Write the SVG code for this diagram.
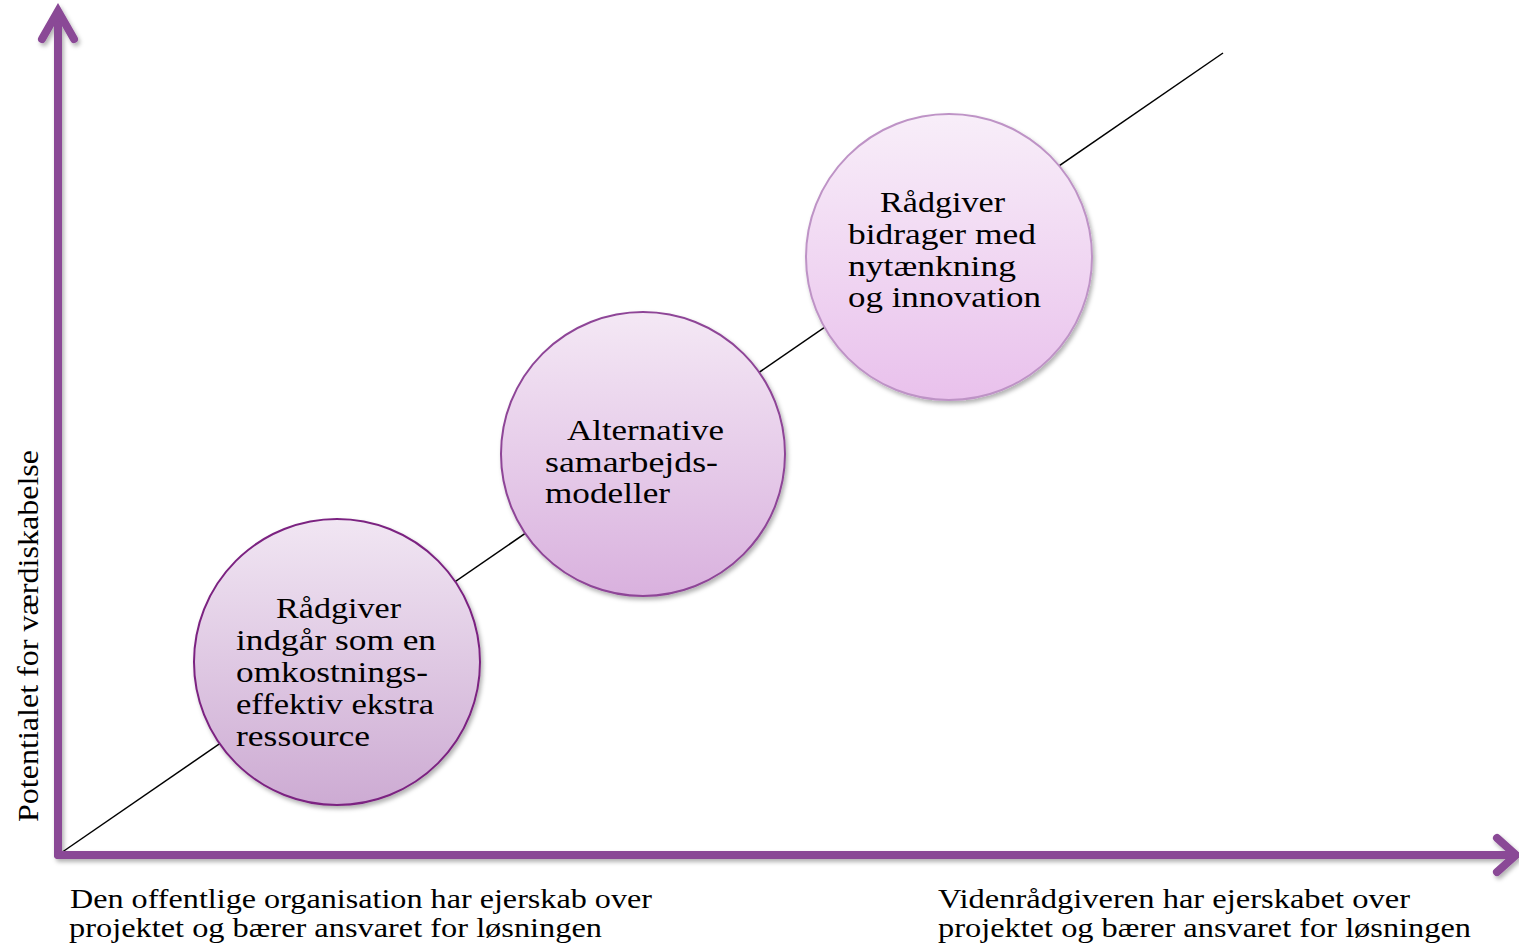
<svg xmlns="http://www.w3.org/2000/svg" width="1519" height="945" viewBox="0 0 1519 945">
<style>
  .t { font-family: "Liberation Serif", "Times New Roman", serif; font-size: 30px; fill: #000; }
  .b { font-size: 28px; }
  .axis { stroke: #8A4896; stroke-width: 8; fill: none; stroke-linecap: round; stroke-linejoin: miter; }
  .diag { stroke: #000; stroke-width: 1.5; fill: none; }
</style>
<defs>
  <filter id="sh" x="-10%" y="-10%" width="120%" height="120%">
    <feDropShadow dx="2" dy="3" stdDeviation="2" flood-color="#000" flood-opacity="0.3"/>
  </filter>
  <linearGradient id="g1" x1="0" y1="0" x2="0" y2="1">
    <stop offset="0" stop-color="#F1E6F3"/>
    <stop offset="1" stop-color="#CDABD3"/>
  </linearGradient>
  <linearGradient id="g2" x1="0" y1="0" x2="0" y2="1">
    <stop offset="0" stop-color="#F4E8F5"/>
    <stop offset="1" stop-color="#D9B1DE"/>
  </linearGradient>
  <linearGradient id="g3" x1="0" y1="0" x2="0" y2="1">
    <stop offset="0" stop-color="#F8EEF9"/>
    <stop offset="1" stop-color="#E9C1EC"/>
  </linearGradient>
</defs>
<rect width="1519" height="945" fill="#fff"/>

<g id="connectors">
  <line class="diag" x1="58" y1="855" x2="1223" y2="53"/>
  <g id="axes" filter="url(#sh)">
    <line class="axis" x1="58" y1="855" x2="58" y2="14"/>
    <path class="axis" d="M42,39 L58,11 L74,39"/>
    <line class="axis" x1="58" y1="855" x2="1513" y2="855"/>
    <path class="axis" d="M1497,838 L1516,855 L1497,872"/>
  </g>
</g>

<g id="node1">
  <circle cx="337" cy="662" r="143" fill="url(#g1)" stroke="#7B2381" stroke-width="2" filter="url(#sh)"/>
  <text class="t" x="276" y="618" textLength="125" lengthAdjust="spacingAndGlyphs">Rådgiver</text>
  <text class="t" x="236" y="650" textLength="200" lengthAdjust="spacingAndGlyphs">indgår som en</text>
  <text class="t" x="236" y="682" textLength="192" lengthAdjust="spacingAndGlyphs">omkostnings-</text>
  <text class="t" x="236" y="714" textLength="198" lengthAdjust="spacingAndGlyphs">effektiv ekstra</text>
  <text class="t" x="236" y="746" textLength="134" lengthAdjust="spacingAndGlyphs">ressource</text>
</g>

<g id="node2">
  <circle cx="643" cy="454" r="142" fill="url(#g2)" stroke="#8E4597" stroke-width="2" filter="url(#sh)"/>
  <text class="t" x="567" y="440" textLength="157" lengthAdjust="spacingAndGlyphs">Alternative</text>
  <text class="t" x="545" y="472" textLength="173" lengthAdjust="spacingAndGlyphs">samarbejds-</text>
  <text class="t" x="545" y="503" textLength="125" lengthAdjust="spacingAndGlyphs">modeller</text>
</g>

<g id="node3">
  <circle cx="949" cy="257" r="143" fill="url(#g3)" stroke="#BE93C6" stroke-width="2" filter="url(#sh)"/>
  <text class="t" x="880" y="212" textLength="125" lengthAdjust="spacingAndGlyphs">Rådgiver</text>
  <text class="t" x="848" y="244" textLength="188" lengthAdjust="spacingAndGlyphs">bidrager med</text>
  <text class="t" x="848" y="276" textLength="168" lengthAdjust="spacingAndGlyphs">nytænkning</text>
  <text class="t" x="848" y="307" textLength="193" lengthAdjust="spacingAndGlyphs">og innovation</text>
</g>

<g id="label-y">
  <text class="t" transform="translate(38,822) rotate(-90)" textLength="372" lengthAdjust="spacingAndGlyphs">Potentialet for værdiskabelse</text>
</g>
<g id="label-left">
  <text class="t b" x="70" y="908" textLength="582" lengthAdjust="spacingAndGlyphs">Den offentlige organisation har ejerskab over</text>
  <text class="t b" x="69" y="937" textLength="533" lengthAdjust="spacingAndGlyphs">projektet og bærer ansvaret for løsningen</text>
</g>
<g id="label-right">
  <text class="t b" x="938" y="908" textLength="472" lengthAdjust="spacingAndGlyphs">Videnrådgiveren har ejerskabet over</text>
  <text class="t b" x="938" y="937" textLength="533" lengthAdjust="spacingAndGlyphs">projektet og bærer ansvaret for løsningen</text>
</g>
</svg>
